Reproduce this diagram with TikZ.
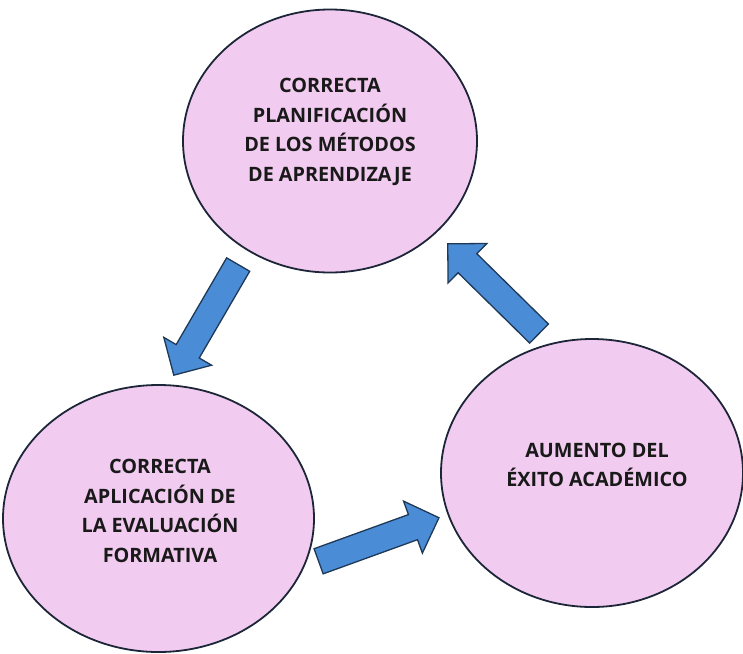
\documentclass[tikz,border=0pt]{standalone}
\usepackage{fontspec}
\setmainfont{Open Sans}
\usetikzlibrary{shapes.geometric,shapes.arrows}

\definecolor{rosa}{RGB}{242,204,240}
\definecolor{borde}{RGB}{28,38,56}
\definecolor{azul}{RGB}{74,140,214}
\definecolor{bordeazul}{RGB}{30,56,86}

\tikzset{
  elipse/.style={ellipse, draw=borde, line width=1.8pt, fill=rosa, inner sep=0pt},
  texto/.style={align=center, font=\fontsize{19.8}{29.5}\selectfont\bfseries, text=black!90},
  flecha/.style={single arrow, draw=bordeazul, line width=1.3pt, fill=azul,
    inner sep=12.7pt, single arrow head extend=14.3pt, single arrow tip angle=90,
    minimum height=128pt, anchor=tail}
}

\begin{document}
\begin{tikzpicture}[x=1pt,y=-1pt]
  \useasboundingbox (0,0) rectangle (743,653);
  % circulos
  \node[elipse, minimum width=294pt, minimum height=263pt] (plan) at (330,141) {};
  \node[elipse, minimum width=311pt, minimum height=267pt] (eval) at (158.5,518.5) {};
  \node[elipse, minimum width=302pt, minimum height=268pt] (exito) at (592,473) {};
  % textos
  \node[texto] (tplan) at (330,132) {CORRECTA\\PLANIFICACIÓN\\DE LOS MÉTODOS\\DE APRENDIZAJE};
  \node[texto] (teval) at (160,511) {CORRECTA\\APLICACIÓN DE\\LA EVALUACIÓN\\FORMATIVA};
  \node[texto] (texito) at (597,465) {AUMENTO DEL\\ÉXITO ACADÉMICO};
  % flechas
  \node[flecha, rotate=239.8] (f1) at (238.5,264) {};
  \node[flecha, rotate=19.9] (f2) at (318,561.5) {};
  \node[flecha, rotate=135.5] (f3) at (539.5,334) {};
\end{tikzpicture}
\end{document}
